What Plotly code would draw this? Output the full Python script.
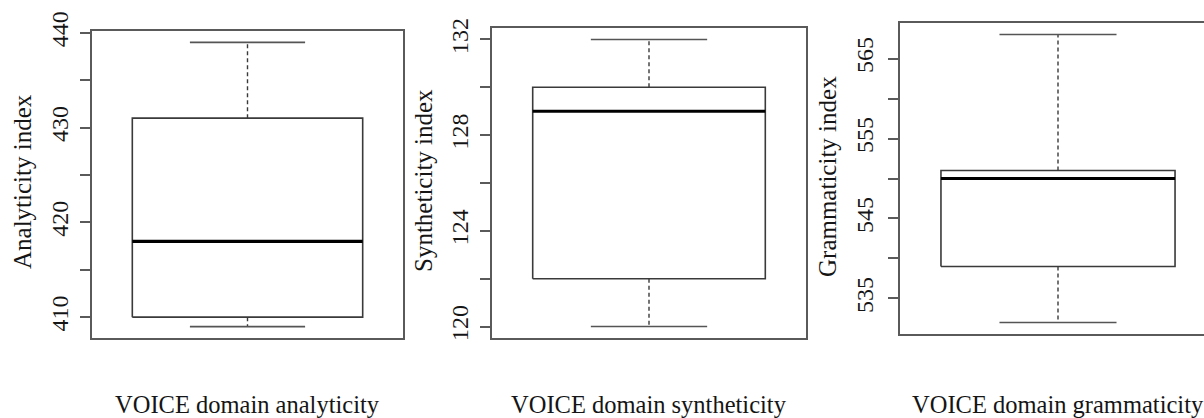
import plotly.graph_objects as go

# ---- data ----
x_labels = ["VOICE domain analyticity", "VOICE domain syntheticity", "VOICE domain grammaticity"]
y_titles = ["Analyticity index", "Syntheticity index", "Grammaticity index"]
lower_whisker = [409, 120, 532]
q1 = [410, 122, 539]
median = [418, 129, 550]
q3 = [431, 130, 551]
upper_whisker = [439, 132, 568]
tick_vals = [
    [410, 415, 420, 425, 430, 435, 440],
    [120, 122, 124, 126, 128, 130, 132],
    [535, 540, 545, 550, 555, 560, 565],
]
tick_text = [
    ["410", "", "420", "", "430", "", "440"],
    ["120", "", "124", "", "128", "", "132"],
    ["535", "", "545", "", "555", "", "565"],
]

# ---- layout constants (pixels) ----
W, H = 1204, 418
frames = [  # x0, x1, ytop, ybottom
    (92, 403, 31, 338),
    (492, 806, 28, 338),
    (900, 1216, 23, 334),
]
tick_standoff = [3, 3, 6]
ytitle_pos = [(23, 182), (423, 181), (827, 177)]
xlabel_y = 404
FONT = "Liberation Serif, Times New Roman, serif"
FRAME_COL = "#5a5a5a"
BOX_COL = "#3a3a3a"
TEXT_COL = "#151515"

fig = go.Figure()
annotations = []
layout = dict(
    width=W, height=H, margin=dict(l=0, r=0, t=0, b=0, autoexpand=False),
    paper_bgcolor="white", plot_bgcolor="white", showlegend=False,
)

box_half = 0.4
cap_half = 0.2
for i in range(3):
    sfx = "" if i == 0 else str(i + 1)
    xa, ya = "x" + sfx, "y" + sfx
    x0, x1, yt, yb = frames[i]
    full_w = x1 - x0
    vis_x1 = min(x1, W)
    xr0 = 0.46
    xr1 = 0.46 + 1.08 * (vis_x1 - x0) / full_w
    lo, hi = lower_whisker[i], upper_whisker[i]
    pad = 0.04 * (hi - lo)

    # box
    fig.add_trace(go.Scatter(
        x=[1 - box_half, 1 + box_half, 1 + box_half, 1 - box_half, 1 - box_half],
        y=[q1[i], q1[i], q3[i], q3[i], q1[i]],
        mode="lines", line=dict(color=BOX_COL, width=1.6),
        xaxis=xa, yaxis=ya, hoverinfo="skip"))
    # whiskers (dashed)
    fig.add_trace(go.Scatter(
        x=[1, 1, None, 1, 1],
        y=[q3[i], upper_whisker[i], None, q1[i], lower_whisker[i]],
        mode="lines", line=dict(color=BOX_COL, width=1.4, dash="4px,3px"),
        xaxis=xa, yaxis=ya, hoverinfo="skip"))
    # caps
    fig.add_trace(go.Scatter(
        x=[1 - cap_half, 1 + cap_half, None, 1 - cap_half, 1 + cap_half],
        y=[upper_whisker[i], upper_whisker[i], None, lower_whisker[i], lower_whisker[i]],
        mode="lines", line=dict(color="#555555", width=1.6),
        xaxis=xa, yaxis=ya, hoverinfo="skip"))
    # median
    fig.add_trace(go.Scatter(
        x=[1 - box_half, 1 + box_half], y=[median[i], median[i]],
        mode="lines", line=dict(color="black", width=3.2),
        xaxis=xa, yaxis=ya, hoverinfo="skip"))

    layout["xaxis" + sfx] = dict(
        domain=[x0 / W, vis_x1 / W], range=[xr0, xr1], anchor=ya, automargin=False,
        showline=True, mirror=True, linecolor=FRAME_COL, linewidth=1.5,
        showticklabels=False, ticks="", showgrid=False, zeroline=False, fixedrange=True)
    layout["yaxis" + sfx] = dict(
        domain=[1 - yb / H, 1 - yt / H], range=[lo - pad, hi + pad], anchor=xa,
        automargin=False,
        showline=True, mirror=(x1 <= W), linecolor=FRAME_COL, linewidth=1.5,
        ticks="outside", ticklen=10, tickwidth=1.5, tickcolor=FRAME_COL,
        tickvals=tick_vals[i], ticktext=tick_text[i], tickangle=-90,
        ticklabelstandoff=tick_standoff[i],
        tickfont=dict(family=FONT, size=24, color=TEXT_COL),
        showgrid=False, zeroline=False, fixedrange=True)

    tx, ty = ytitle_pos[i]
    annotations.append(dict(
        text=y_titles[i], x=tx / W, y=1 - ty / H, xref="paper", yref="paper",
        xanchor="center", yanchor="middle", textangle=-90, showarrow=False,
        font=dict(family=FONT, size=25, color=TEXT_COL)))
    annotations.append(dict(
        text=x_labels[i], x=((x0 + x1) / 2) / W, y=1 - xlabel_y / H,
        xref="paper", yref="paper", xanchor="center", yanchor="middle",
        showarrow=False, font=dict(family=FONT, size=24.5, color=TEXT_COL)))

layout["annotations"] = annotations
fig.update_layout(**layout)
fig.write_html("out.html")
